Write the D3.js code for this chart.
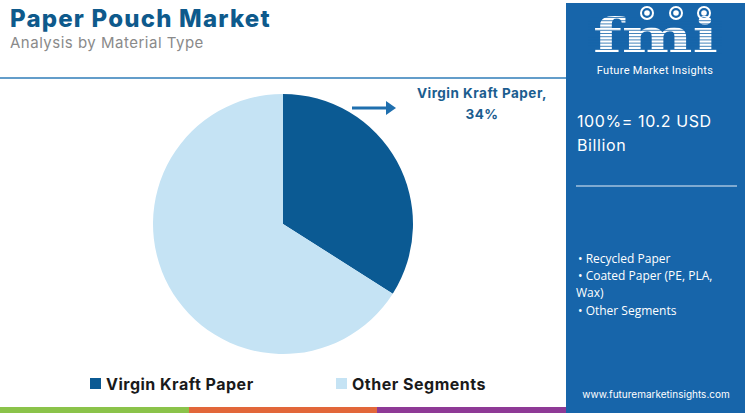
<!DOCTYPE html>
<html><head><meta charset="utf-8">
<script src="https://cdn.jsdelivr.net/npm/d3@7"></script>
<style>
html,body{margin:0;padding:0;background:#fff;}
svg{display:block;}
</style></head>
<body>
<script>
const categories = ["Virgin Kraft Paper", "Other Segments"];
const values = [34, 66];
const colors = ["#0b5a93", "#c5e3f4"];
const title = "Paper Pouch Market";
const subtitle = "Analysis by Material Type";
const totalLabel = ["100%= 10.2 USD", "Billion"];
const segmentList = ["• Recycled Paper", "• Coated Paper (PE, PLA,", "Wax)", "• Other Segments"];
const calloutLabel = ["Virgin Kraft Paper,", "34%"];

const W = 745, H = 413;
const svg = d3.select("body").append("svg").attr("width", W).attr("height", H);

// title
svg.append("text").attr("x", 10).attr("y", 27).text(title)
  .attr("font-family", "Inter, 'Open Sans', sans-serif").attr("font-weight", 800)
  .attr("font-size", 24).attr("letter-spacing", 1.2).attr("fill", "#0e5a8c");
svg.append("text").attr("x", 10).attr("y", 48).text(subtitle)
  .attr("font-family", "Inter, 'Open Sans', sans-serif").attr("font-size", 15).attr("letter-spacing", 0.5).attr("fill", "#8a8a8a");
svg.append("line").attr("x1", 0).attr("x2", 566).attr("y1", 78).attr("y2", 78)
  .attr("stroke", "#2f7db8").attr("stroke-width", 1.6);

// bottom strip
const strip = [["#8bc34a", 0, 189], ["#e2673a", 189, 377], ["#8e3a96", 377, 566]];
strip.forEach(s => svg.append("rect").attr("x", s[1]).attr("y", 407).attr("width", s[2] - s[1]).attr("height", 6).attr("fill", s[0]));

// right panel
svg.append("rect").attr("x", 566).attr("y", 3).attr("width", W - 566).attr("height", H - 3).attr("fill", "#1765aa");

// logo
const logo = svg.append("g");
logo.append("text").attr("x", 593).attr("y", 52).text("fmi")
  .attr("font-family", "'DejaVu Serif', serif").attr("font-weight", 700).attr("font-size", 47)
  .attr("textLength", 125).attr("lengthAdjust", "spacingAndGlyphs").attr("fill", "#fff");
for (let y = 17; y < 54; y += 3.2) {
  logo.append("rect").attr("x", 588).attr("y", y).attr("width", 134).attr("height", 1).attr("fill", "#1765aa").attr("opacity", 0.8);
}
[[647, 13], [676, 13], [704, 13]].forEach(p => {
  logo.append("circle").attr("cx", p[0]).attr("cy", p[1]).attr("r", 6).attr("fill", "none").attr("stroke", "#fff").attr("stroke-width", 2);
  logo.append("circle").attr("cx", p[0]).attr("cy", p[1]).attr("r", 2.8).attr("fill", "#fff");
});
logo.append("text").attr("x", 655).attr("y", 74).attr("text-anchor", "middle").text("Future Market Insights")
  .attr("font-family", "Roboto, 'Open Sans', sans-serif").attr("font-size", 11).attr("letter-spacing", 0.3).attr("fill", "#fff");

// panel text
totalLabel.forEach((t, i) => svg.append("text").attr("x", 577).attr("y", 127 + i * 24).text(t)
  .attr("font-family", "Inter, 'Open Sans', sans-serif").attr("font-size", 16).attr("letter-spacing", 0.6).attr("fill", "#fff"));
svg.append("line").attr("x1", 576).attr("x2", 737).attr("y1", 186).attr("y2", 186).attr("stroke", "#e8f0f8").attr("stroke-width", 1.2);
const listY = [263, 280, 297, 315];
segmentList.forEach((t, i) => svg.append("text").attr("x", i === 2 ? 576 : 578).attr("y", listY[i]).text(t)
  .attr("font-family", "'Open Sans', sans-serif").attr("font-size", 12).attr("fill", "#fff"));
svg.append("text").attr("x", 656).attr("y", 398).attr("text-anchor", "middle").text("www.futuremarketinsights.com")
  .attr("font-family", "Inter, 'Open Sans', sans-serif").attr("font-size", 10).attr("fill", "#fff");

// pie
const cx = 283, cy = 224, r = 130;
const pie = d3.pie().sort(null).value(d => d)(values);
const arc = d3.arc().innerRadius(0).outerRadius(r);
svg.append("g").attr("transform", `translate(${cx},${cy})`)
  .selectAll("path").data(pie).join("path")
  .attr("d", arc).attr("fill", (d, i) => colors[i]);

// callout
svg.append("line").attr("x1", 352).attr("x2", 388).attr("y1", 108).attr("y2", 108).attr("stroke", "#1f6fae").attr("stroke-width", 3);
svg.append("path").attr("d", "M386,101 L396,108 L386,115 Z").attr("fill", "#1f6fae");
calloutLabel.forEach((t, i) => svg.append("text").attr("x", 482).attr("y", 98 + i * 21).attr("text-anchor", "middle").text(t)
  .attr("font-family", "Inter, 'Open Sans', sans-serif").attr("font-weight", 700).attr("font-size", 13.5)
  .attr("letter-spacing", 0.5).attr("fill", "#1b5d8f"));

// legend
const legX = [90, 336];
categories.forEach((c, i) => {
  svg.append("rect").attr("x", legX[i]).attr("y", 378).attr("width", 11).attr("height", 11).attr("fill", colors[i]);
  svg.append("text").attr("x", legX[i] + 16).attr("y", 390).text(c)
    .attr("font-family", "Inter, 'Open Sans', sans-serif").attr("font-weight", 700).attr("font-size", 16)
    .attr("letter-spacing", 0.5).attr("fill", "#1a1a1a");
});
</script>
</body></html>
